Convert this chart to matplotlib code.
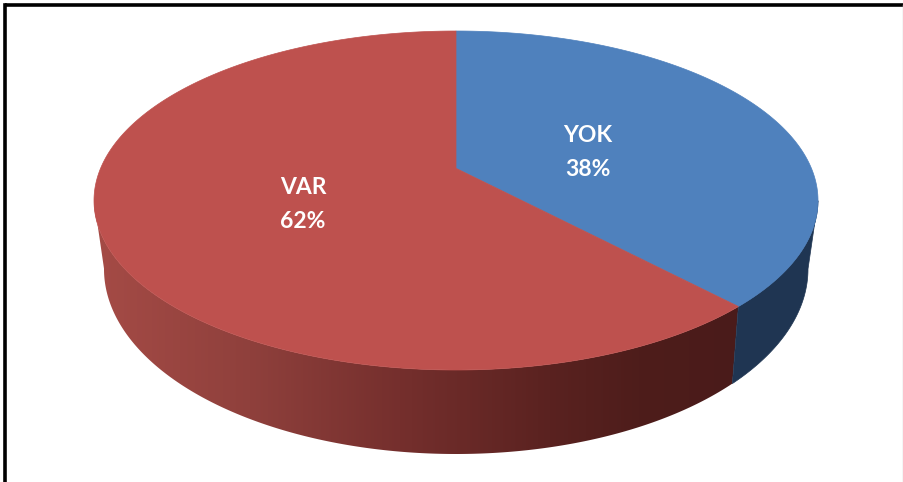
import numpy as np
import matplotlib
matplotlib.use('Agg')
import matplotlib.pyplot as plt
from matplotlib.colors import LinearSegmentedColormap
from matplotlib.patches import Polygon

labels = ['YOK', 'VAR']
values = [38, 62]
percent_labels = ['38%', '62%']

top_colors = ['#4F81BD', '#BE514E']
blue_side = '#1F3552'
# red wall gets darker from left to right
red_x = [94, 250, 400, 550, 640, 740]
red_shades = ['#A54B46', '#8F403C', '#752F2D', '#5A2220', '#4E1D1B', '#4A1B1A']


def rim(theta, cx, cy, rx, ry, v0):
    # perspective circle, theta is clockwise from the top
    x = np.sin(theta)
    y = np.cos(theta)
    d = 1 + v0 * y
    u = x * np.sqrt(1 - v0 ** 2) / d
    v = (y + v0) / d
    return cx + rx * u, cy - ry * v


def wall(t_a, t_b, side):
    # outline between the two rims, cut off at the left/right extreme of each
    th = np.linspace(t_a, t_b, 800)
    x0, y0 = rim(th, *top_rim)
    x1, y1 = rim(th, *bottom_rim)
    if side == 'left':
        i0, i1 = np.argmin(x0), np.argmin(x1)
        top = list(zip(x0[:i0 + 1], y0[:i0 + 1]))
        bottom = list(zip(x1[:i1 + 1], y1[:i1 + 1]))
    else:
        i0, i1 = np.argmax(x0), np.argmax(x1)
        top = list(zip(x0[i0:], y0[i0:]))
        bottom = list(zip(x1[i1:], y1[i1:]))
    return top + bottom[::-1]


top_rim = (456, 200.5, 362, 169.5, 0.19)
bottom_rim = (456, 269, 352, 185, 0.2)

fig = plt.figure(figsize=(9.04, 4.82), dpi=100)
ax = fig.add_axes([0, 0, 1, 1])
ax.set_xlim(0, 904)
ax.set_ylim(482, 0)
ax.axis('off')

split = 2 * np.pi * values[0] / sum(values)

# side walls
ax.add_patch(Polygon(wall(0, split, 'right'), closed=True, facecolor=blue_side, edgecolor=blue_side, linewidth=0.5))

red_wall = Polygon(wall(split, 2 * np.pi, 'left'), closed=True, facecolor='none', edgecolor='none')
ax.add_patch(red_wall)
pos = [(x - red_x[0]) / (red_x[-1] - red_x[0]) for x in red_x]
cmap = LinearSegmentedColormap.from_list('wall', list(zip(pos, red_shades)))
grad = ax.imshow(np.linspace(0, 1, 512).reshape(1, -1), cmap=cmap, aspect='auto',
                 extent=(red_x[0], red_x[-1], 482, 0), interpolation='bilinear')
grad.set_clip_path(red_wall)
ax.set_xlim(0, 904)
ax.set_ylim(482, 0)

# top face
start = 0
vx, vy = top_rim[0], top_rim[1] - top_rim[3] * top_rim[4]
for val, col in zip(values, top_colors):
    end = start + 2 * np.pi * val / sum(values)
    th = np.linspace(start, end, 300)
    xs, ys = rim(th, *top_rim)
    pts = [(vx, vy)] + list(zip(xs, ys))
    ax.add_patch(Polygon(pts, closed=True, facecolor=col, edgecolor=col, linewidth=0.5))
    start = end

# labels
font = dict(family='Lato', fontweight='bold', fontsize=16.5, color='white', ha='center', va='center')
ax.text(588, 136, labels[0], **font)
ax.text(588, 169, percent_labels[0], **font)
ax.text(303, 188, labels[1], **font)
ax.text(303, 221, percent_labels[1], **font)

# picture frame
ax.plot([5, 5], [482, 5], color='black', lw=2.6, solid_capstyle='projecting')
ax.plot([5, 904], [5, 5], color='black', lw=2.6, solid_capstyle='butt')
ax.plot([903.5, 903.5], [5, 482], color='#cccccc', lw=1)

fig.savefig('out.png', dpi=100, facecolor='white')
